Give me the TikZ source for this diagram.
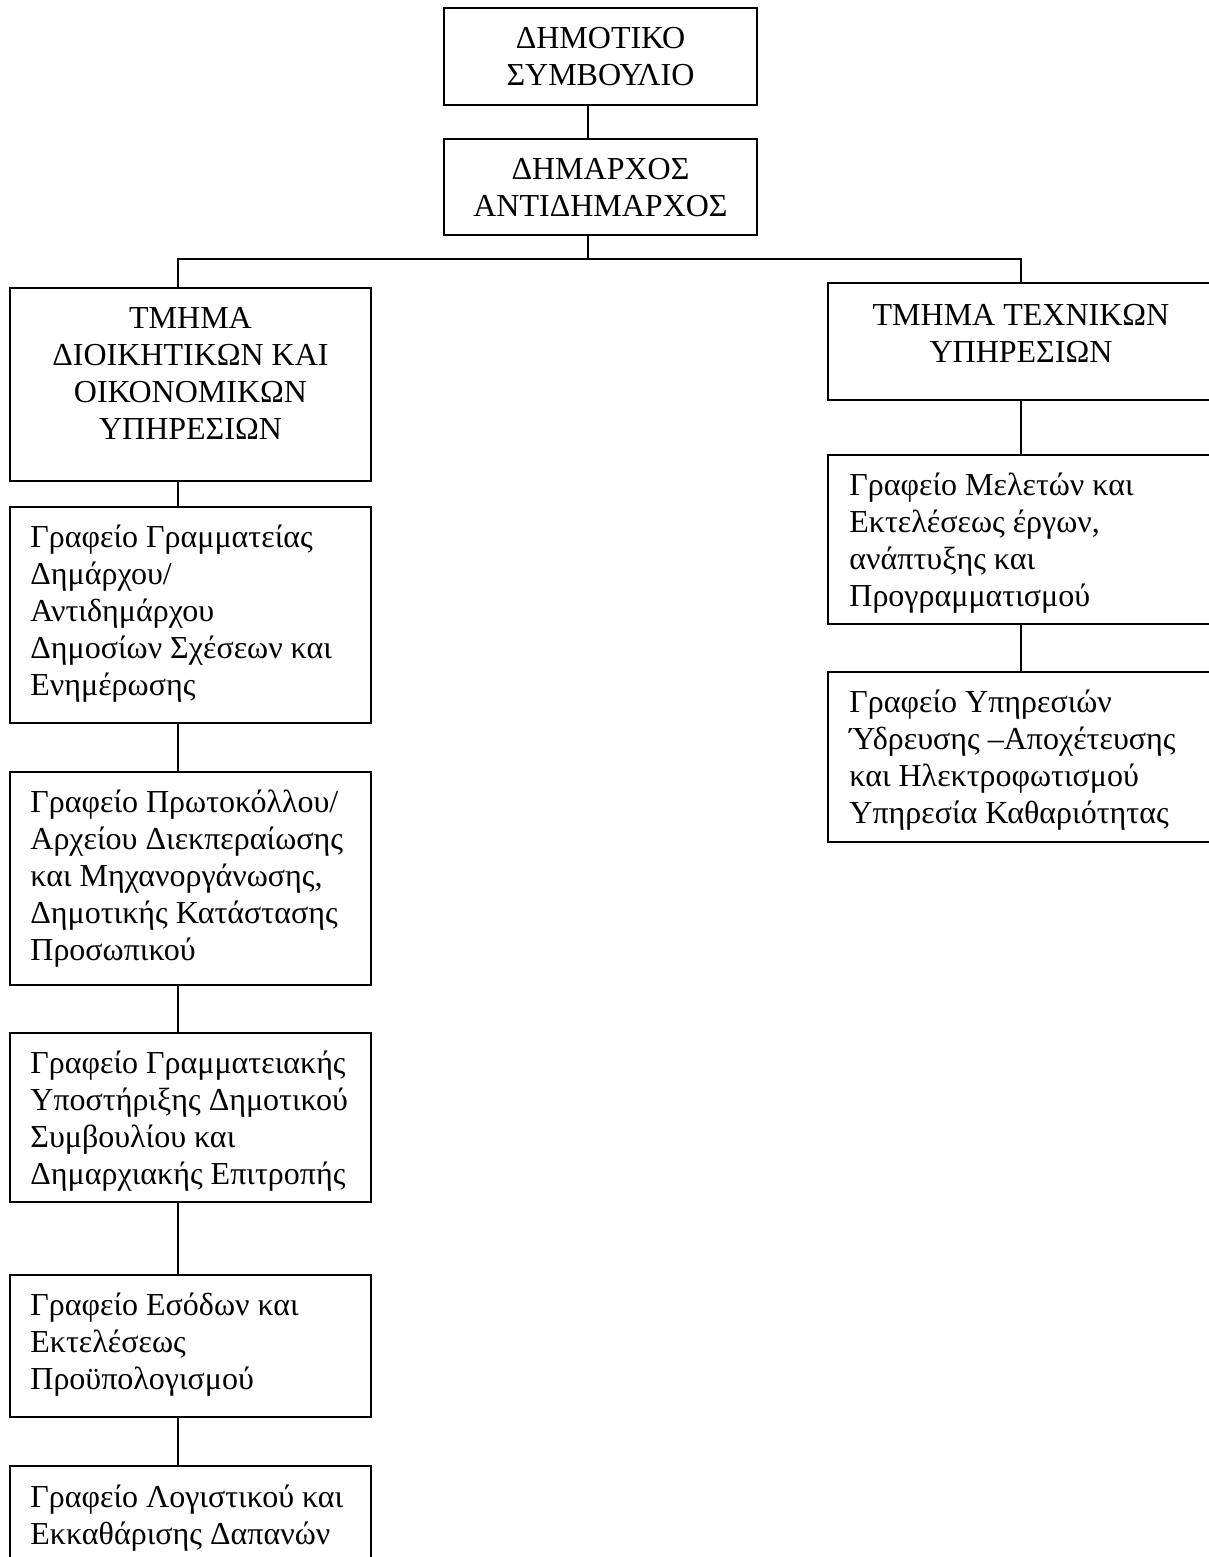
\documentclass[tikz,border=0pt]{standalone}
\usepackage{fontspec}
\setmainfont{Liberation Serif}
\usetikzlibrary{fit}
% fixes the height of a first line so text tops line up
\newcommand\firstln{\rule{0pt}{14pt}}
\begin{document}
\begin{tikzpicture}[x=0.5pt,y=-0.5pt,
  box/.style={draw, line width=1pt, inner sep=0pt, rectangle, fit={#1}},
  txt/.style={inner sep=0pt, font=\fontsize{16pt}{18.5pt}\selectfont},
  head/.style={txt, align=center, anchor=north},
  body/.style={txt, align=left, anchor=north west},
  link/.style={line width=1pt}]
\useasboundingbox (0,0) rectangle (1209,1557);
\clip (0,0) rectangle (1209,1557);
\fill[white] (0,0) rectangle (1209,1557);

% connector axes
\coordinate (mx) at (588,0);
\coordinate (lx) at (178,0);
\coordinate (rx) at (1021,0);
\coordinate (bar) at (0,259);

% top of the hierarchy
\node[box={(444,8)(757,105)}] (dk) {};
\node[head] (dkt) at (600.5,20) {\firstln ΔΗΜΟΤΙΚΟ\\ΣΥΜΒΟΥΛΙΟ};
\node[box={(444,139)(757,235)}] (dm) {};
\node[head] (dmt) at (600.5,151) {\firstln ΔΗΜΑΡΧΟΣ\\ΑΝΤΙΔΗΜΑΡΧΟΣ};

% departments
\node[box={(10,288)(371,481)}] (td) {};
\node[head] (tdt) at (190.5,300) {\firstln ΤΜΗΜΑ\\ΔΙΟΙΚΗΤΙΚΩΝ ΚΑΙ\\ΟΙΚΟΝΟΜΙΚΩΝ\\ΥΠΗΡΕΣΙΩΝ};
\node[box={(828,283)(1214,400)}] (tt) {};
\node[head] (ttt) at (1021,297) {\firstln ΤΜΗΜΑ ΤΕΧΝΙΚΩΝ\\ΥΠΗΡΕΣΙΩΝ};

% offices of the administrative department
\node[box={(10,507)(371,723)}] (l1) {};
\node[body] (l1t) at (30,519) {\firstln Γραφείο Γραμματείας\\Δημάρχου/\\Αντιδημάρχου\\Δημοσίων Σχέσεων και\\Ενημέρωσης};
\node[box={(10,772)(371,985)}] (l2) {};
\node[body] (l2t) at (30,784) {\firstln Γραφείο Πρωτοκόλλου/\\Αρχείου Διεκπεραίωσης\\και Μηχανοργάνωσης,\\Δημοτικής Κατάστασης\\Προσωπικού};
\node[box={(10,1033)(371,1202)}] (l3) {};
\node[body] (l3t) at (30,1045) {\firstln Γραφείο Γραμματειακής\\Υποστήριξης Δημοτικού\\Συμβουλίου και\\Δημαρχιακής Επιτροπής};
\node[box={(10,1275)(371,1417)}] (l4) {};
\node[body] (l4t) at (30,1287) {\firstln Γραφείο Εσόδων και\\Εκτελέσεως\\Προϋπολογισμού};
\node[box={(10,1466)(371,1620)}] (l5) {};
\node[body] (l5t) at (30,1479) {\firstln Γραφείο Λογιστικού και\\Εκκαθάρισης Δαπανών};

% offices of the technical department
\node[box={(828,455)(1214,624)}] (r1) {};
\node[body] (r1t) at (849,467) {\firstln Γραφείο Μελετών και\\Εκτελέσεως έργων,\\ανάπτυξης και\\Προγραμματισμού};
\node[box={(828,672)(1214,842)}] (r2) {};
\node[body] (r2t) at (849,684) {\firstln Γραφείο Υπηρεσιών\\Ύδρευσης –Αποχέτευσης\\και Ηλεκτροφωτισμού\\Υπηρεσία Καθαριότητας};

% connectors
\draw[link] (dk.south -| mx) -- (dm.north -| mx);
\draw[link] (dm.south -| mx) -- (mx |- bar);
\draw[link] (td.north -| lx) -- (lx |- bar) -- (rx |- bar) -- (tt.north -| rx);
\draw[link] (td.south -| lx) -- (l1.north -| lx);
\draw[link] (l1.south -| lx) -- (l2.north -| lx);
\draw[link] (l2.south -| lx) -- (l3.north -| lx);
\draw[link] (l3.south -| lx) -- (l4.north -| lx);
\draw[link] (l4.south -| lx) -- (l5.north -| lx);
\draw[link] (tt.south -| rx) -- (r1.north -| rx);
\draw[link] (r1.south -| rx) -- (r2.north -| rx);
\end{tikzpicture}
\end{document}
